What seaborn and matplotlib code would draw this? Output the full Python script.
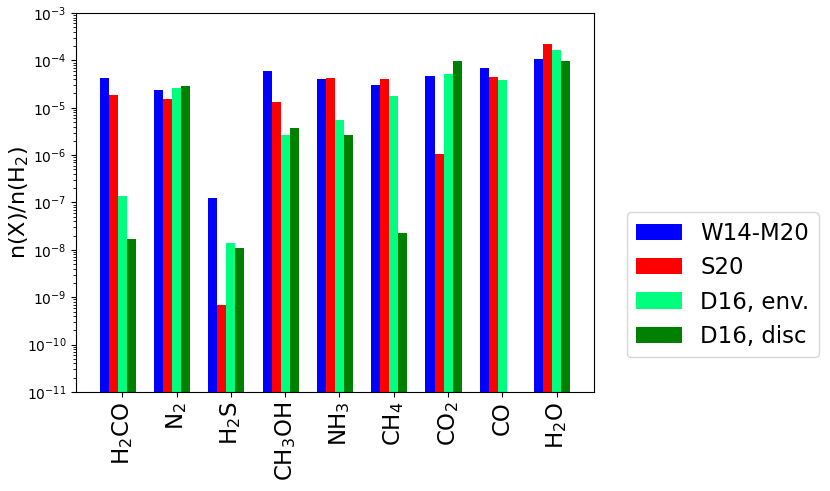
import matplotlib
matplotlib.use("Agg")
import matplotlib.pyplot as plt
import numpy as np
import pandas as pd
import seaborn as sns
from matplotlib.patches import Patch

# molecules on the x axis
molecules = ["H$_2$CO", "N$_2$", "H$_2$S", "CH$_3$OH", "NH$_3$",
             "CH$_4$", "CO$_2$", "CO", "H$_2$O"]

# abundances relative to H2
w14_m20 = [4.2e-5, 2.4e-5, 1.27e-7, 6.0e-5, 4.1e-5, 3.0e-5, 4.7e-5, 6.9e-5, 1.09e-4]
s20 = [1.83e-5, 1.5e-5, 6.7e-10, 1.31e-5, 4.3e-5, 4.0e-5, 1.06e-6, 4.4e-5, 2.25e-4]
d16_env = [1.36e-7, 2.6e-5, 1.38e-8, 2.7e-6, 5.6e-6, 1.8e-5, 5.1e-5, 3.9e-5, 1.66e-4]
d16_disc = [1.73e-8, 2.85e-5, 1.09e-8, 3.7e-6, 2.7e-6, 2.3e-8, 9.9e-5, np.nan, 9.9e-5]

series = {
    "W14-M20": w14_m20,
    "S20": s20,
    "D16, env.": d16_env,
    "D16, disc": d16_disc,
}
colors = ["#0000ff", "#ff0000", "#00ff7f", "#008000"]

rows = []
for name, vals in series.items():
    for mol, v in zip(molecules, vals):
        rows.append({"molecule": mol, "source": name, "abundance": v})
# empty fifth slot so the groups sit left of the tick, as in the original
for mol in molecules:
    rows.append({"molecule": mol, "source": "_pad", "abundance": 0.0})
df = pd.DataFrame(rows)

hue_order = list(series.keys()) + ["_pad"]
palette = dict(zip(hue_order, colors + ["white"]))

fig = plt.figure(figsize=(8.3, 4.91), dpi=100)
ax = fig.add_axes([0.0916, 0.2016, 0.6237, 0.772])

sns.barplot(data=df, x="molecule", y="abundance", hue="source",
            order=molecules, hue_order=hue_order, palette=palette,
            width=5 / 6, errorbar=None, saturation=1,
            legend=False, ax=ax)

ax.set_yscale("log")
ax.set_ylim(1e-11, 1e-3)
ax.set_xlim(-0.85, 8.68)
ax.set_xlabel("")
ax.set_ylabel("n(X)/n(H$_2$)", fontsize=16)
ax.yaxis.set_label_coords(-0.087, 0.5)
ax.tick_params(axis="x", labelsize=16.5, labelrotation=90)

handles = [Patch(facecolor=c, label=l) for c, l in zip(colors, series.keys())]
ax.legend(handles=handles, loc="lower left", bbox_to_anchor=(1.064, 0.092),
          borderaxespad=0, fontsize=16.5)

fig.savefig("out.png", dpi=100)
